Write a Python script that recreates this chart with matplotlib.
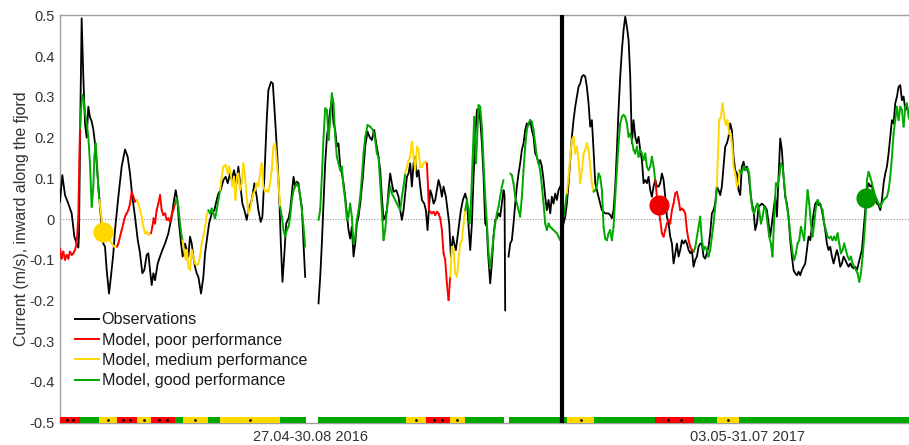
import numpy as np
import matplotlib
matplotlib.use("Agg")
import matplotlib.pyplot as plt
from matplotlib.collections import LineCollection
from matplotlib.lines import Line2D
from matplotlib.patches import Rectangle

plt.rcParams['font.family'] = ['Liberation Sans', 'DejaVu Sans']

nan = np.nan

# Time axis in days: first deployment starts at 0, the second one is appended after it
period_bounds = [0.0, 124.2, 216.0]
period_labels = ['27.04-30.08 2016', '03.05-31.07 2017']

# Observed along-fjord current (m/s); nan marks data gaps
obs_t = [
    0.0, 0.58, 1.24, 2.06, 2.89, 3.55, 4.12, 4.54, 4.70, 5.03,
    5.36, 5.77, 6.19, 6.60, 7.01, 7.42, 7.84, 8.25, 8.66, 9.07,
    9.49, 9.90, 10.31, 10.72, 11.14, 11.55, 12.13, 12.62, 13.20, 13.61,
    14.44, 15.26, 16.09, 16.75, 17.32, 17.90, 18.56, 19.22, 19.80, 20.38,
    20.87, 21.45, 21.86, 22.27, 22.69, 23.10, 23.51, 24.17, 24.75, 25.33,
    25.99, 26.81, 27.64, 28.21, 28.63, 29.04, 29.45, 29.95, 30.36, 30.94,
    31.35, 31.76, 32.17, 32.59, 33.00, 33.41, 33.82, 34.24, 34.90, 35.47,
    35.89, 36.46, 36.88, 37.54, 38.20, 38.77, 39.19, 39.76, 40.42, 41.00,
    41.50, 42.07, 42.48, 43.06, 43.72, 44.13, 44.55, 45.13, 45.62, 46.20,
    46.61, 47.44, 48.10, 48.67, 49.09, 49.66, 50.08, 50.57, 51.15, 51.56,
    52.22, 52.66, 53.24, 53.82, 54.31, 54.64, 55.05, 55.47, 55.96, 56.54,
    56.95, 57.36, 57.78, 58.19, 58.60, 59.01, 59.43, 59.84, 60.25, 60.66,
    62.30,
    63.96, 64.38, 64.79, 65.20, 65.61, 66.03, 66.44, 66.85, 67.26, 67.68,
    68.09, 68.50, 68.91, 69.33, 69.74, 70.15, 70.56, 70.98, 71.39, 71.80,
    72.21, 72.63, 73.04, 73.45, 73.86, 74.28, 74.94, 75.51, 76.09, 76.59,
    77.16, 77.74, 78.24, 78.81, 79.23, 79.64, 80.05, 80.46, 80.88, 81.29,
    81.70, 82.11, 82.53, 83.19, 83.76, 84.18, 84.59, 85.00, 85.41, 85.83,
    86.24, 86.65, 87.06, 87.48, 87.89, 88.30, 88.71, 89.13, 89.54, 90.12,
    90.53, 90.94, 91.27, 91.60, 92.01, 92.43, 92.84, 93.25, 93.66, 94.08,
    94.49, 94.90, 95.48, 95.89, 96.30, 96.72, 97.21, 97.54, 97.95, 98.37,
    98.78, 99.19, 99.69, 100.26, 100.68, 101.09, 101.50, 101.91, 102.33, 102.74,
    103.15, 103.56, 103.98, 104.39, 104.80, 105.21, 105.63, 105.86, 106.44, 106.85,
    107.26, 107.68, 108.09, 108.50, 108.91, 109.33, 109.74, 109.99, 110.15,
    110.50,
    110.98, 111.39, 111.80, 112.21, 112.63, 113.04, 113.45, 113.86, 114.28, 114.69,
    115.10, 115.51, 115.93, 116.34, 116.75, 117.16, 117.58, 117.99, 118.40, 118.81,
    119.23, 119.64, 120.05, 120.46, 120.88, 121.29, 121.70, 122.11, 122.53, 122.94,
    123.35, 123.76,
    124.20,
    124.59, 125.00, 125.41, 125.83, 126.24, 126.65, 127.06, 127.48, 127.89, 128.30,
    128.71, 129.13, 129.54, 129.95, 130.36, 130.78, 131.19, 131.60, 132.01, 132.43,
    132.84, 133.25, 133.66, 134.08, 134.90, 135.73, 136.14, 136.55, 136.96, 137.38,
    137.79, 138.20, 138.61, 139.03, 139.44, 139.85, 140.26, 140.68, 141.09, 141.50,
    141.91, 142.33, 142.74, 143.15, 143.56, 143.98, 144.39, 144.80, 145.21, 145.63,
    146.04, 146.45, 146.86, 147.28, 147.69, 148.10, 148.51, 148.93, 149.34, 149.75,
    150.16, 150.58, 150.99, 151.40, 151.81, 152.23, 152.64, 153.05, 153.46, 153.88,
    154.29, 154.70, 155.11, 155.53, 155.94, 156.35, 156.76, 157.18, 157.59, 158.00,
    158.41, 158.81, 159.23, 159.64, 160.05, 160.46, 160.88, 161.29, 161.70, 162.11,
    162.53, 162.94, 163.35, 163.76, 164.18, 164.59, 165.00, 165.41, 165.83, 166.24,
    166.65, 167.06, 167.48, 167.89, 168.30, 168.71, 169.13, 169.54, 169.95, 170.36,
    170.78, 171.19, 171.60, 172.01, 172.43, 172.84, 173.66, 174.49, 174.90, 175.31,
    175.73, 176.14, 176.55, 176.96, 177.38, 177.79, 178.20, 178.61, 179.03, 179.44,
    179.85, 180.26, 180.68, 181.09, 181.50, 181.91, 182.33, 182.74, 183.15, 183.56,
    183.98, 184.39, 184.80, 185.21, 185.63, 186.04, 186.45, 186.86, 187.28, 187.69,
    188.10, 188.51, 188.93, 189.34, 189.75, 190.16, 190.58, 190.99, 191.40, 191.81,
    192.23, 192.64, 193.05, 193.46, 193.88, 194.29, 194.70, 195.11, 195.53, 195.94,
    196.35, 196.76, 197.18, 197.59, 198.00, 198.41, 198.83, 199.24, 199.65, 200.06,
    200.48, 200.89, 201.30, 201.71, 202.13, 202.54, 202.95, 203.36, 203.78, 204.19,
    204.60, 205.01, 205.43, 205.84, 206.25, 206.66, 207.08, 207.49, 207.90, 208.31,
    208.73, 209.14, 209.55, 209.96, 210.40,
]
obs_v = [
    0.043, 0.108, 0.059, 0.038, 0.014, -0.043, -0.060, -0.070, -0.040, 0.250,
    0.493, 0.350, 0.235, 0.200, 0.276, 0.250, 0.240, 0.220, 0.186, 0.137,
    0.080, 0.030, -0.019, -0.060, -0.068, -0.125, -0.183, -0.140, -0.084, -0.027,
    0.055, 0.129, 0.171, 0.153, 0.112, 0.055, 0.006, -0.050, -0.084, -0.133,
    -0.125, -0.088, -0.084, -0.125, -0.162, -0.133, -0.150, -0.109, -0.092, -0.076,
    -0.060, -0.035, 0.006, 0.047, 0.071, 0.047, -0.011, -0.060, -0.092, -0.060,
    -0.076, -0.092, -0.043, -0.060, -0.092, -0.117, -0.133, -0.142, -0.183, -0.142,
    -0.084, -0.043, -0.011, 0.014, 0.022, 0.047, 0.063, 0.071, 0.096, 0.104,
    0.088, 0.112, 0.096, 0.120, 0.088, 0.129, 0.088, 0.038, 0.022, -0.002,
    0.022, 0.047, 0.088, 0.055, 0.022, -0.007, 0.006, 0.104, 0.243, 0.317,
    0.337, 0.333, 0.243, 0.145, 0.038, -0.060, -0.154, -0.092, -0.011, 0.002,
    0.022, 0.063, 0.104, 0.080, 0.092, 0.088, 0.055, 0.030, -0.060, -0.142,
    nan,
    -0.207, -0.142, -0.060, 0.038, 0.137, 0.200, 0.235, 0.268, 0.292, 0.235,
    0.219, 0.178, 0.186, 0.129, 0.112, 0.088, 0.055, 0.014, -0.027, -0.048,
    -0.019, -0.092, -0.060, -0.011, 0.006, 0.038, 0.104, 0.178, 0.215, 0.202,
    0.194, 0.219, 0.186, 0.153, 0.120, 0.055, -0.002, 0.006, 0.022, 0.071,
    0.112, 0.088, 0.067, 0.071, 0.055, 0.022, -0.002, 0.022, 0.063, 0.104,
    0.112, 0.137, 0.080, 0.137, 0.153, 0.104, 0.120, 0.080, 0.047, 0.038,
    0.022, -0.027, 0.022, 0.071, 0.059, 0.038, 0.047, 0.071, 0.096, 0.080,
    0.055, 0.080, 0.055, 0.022, -0.011, -0.092, -0.043, -0.060, -0.076, -0.043,
    -0.011, 0.022, 0.047, 0.063, 0.047, -0.019, -0.076, -0.011, 0.104, 0.202,
    0.268, 0.272, 0.243, 0.186, 0.104, -0.011, -0.019, -0.076, -0.158, -0.109,
    -0.043, -0.002, 0.002, 0.014, 0.006, 0.038, 0.071, 0.059, -0.224,
    nan,
    -0.092, -0.060, -0.052, -0.011, 0.038, 0.080, 0.112, 0.137, 0.170, 0.186,
    0.219, 0.235, 0.231, 0.243, 0.219, 0.202, 0.161, 0.153, 0.137, 0.145,
    0.129, 0.096, 0.055, 0.022, 0.047, 0.014, 0.055, 0.038, 0.063, 0.047,
    0.071, 0.080,
    nan,
    -0.011, 0.006, 0.038, 0.088, 0.145, 0.202, 0.243, 0.276, 0.301, 0.325,
    0.333, 0.350, 0.354, 0.350, 0.325, 0.284, 0.227, 0.243, 0.170, 0.088,
    0.071, 0.055, 0.038, 0.022, 0.014, 0.014, 0.010, 0.002, 0.022, 0.080,
    0.170, 0.268, 0.350, 0.415, 0.464, 0.497, 0.473, 0.440, 0.350, 0.186,
    0.243, 0.202, 0.186, 0.202, 0.170, 0.145, 0.088, 0.096, 0.088, 0.104,
    0.071, 0.055, 0.080, 0.096, 0.080, 0.080, 0.088, 0.112, 0.096, 0.055,
    0.006, -0.011, -0.043, -0.060, -0.109, -0.084, -0.060, -0.092, -0.076, -0.052,
    -0.060, -0.052, -0.060, -0.076, -0.084, -0.076, -0.117, -0.100, -0.092, -0.068,
    -0.060, -0.060, -0.092, -0.097, -0.084, -0.068, -0.035, 0.014, 0.022, 0.038,
    0.080, 0.071, 0.059, 0.080, 0.129, 0.178, 0.186, 0.202, 0.235, 0.219,
    0.153, 0.120, 0.112, 0.071, 0.059, 0.129, 0.141, 0.120, 0.129, 0.112,
    0.071, 0.038, 0.022, -0.027, -0.011, 0.030, 0.038, 0.030, 0.022, -0.011,
    -0.043, -0.011, 0.022, 0.055, 0.006, 0.104, 0.198, 0.170, 0.104, 0.055,
    0.038, 0.006, -0.052, -0.092, -0.125, -0.133, -0.138, -0.129, -0.138, -0.125,
    -0.117, -0.109, -0.076, -0.043, -0.052, -0.019, 0.014, 0.038, 0.043, 0.034,
    0.038, 0.022, -0.002, -0.027, -0.060, -0.076, -0.068, -0.092, -0.109, -0.092,
    -0.076, -0.092, -0.117, -0.109, -0.092, -0.100, -0.109, -0.117, -0.109, -0.117,
    -0.121, -0.117, -0.125, -0.109, -0.092, -0.076, -0.027, 0.022, 0.071, 0.088,
    0.080, 0.084, 0.055, 0.047, 0.038, 0.034, 0.022, 0.047, 0.088, 0.112,
    0.129, 0.161, 0.202, 0.243, 0.235, 0.284, 0.301, 0.325, 0.329, 0.292,
    0.301, 0.268, 0.276, 0.260, 0.250,
]

# Modelled along-fjord current (m/s)
mod_t = [
    0.00, 0.41, 0.82, 1.24, 1.65, 2.06, 2.47, 2.89, 3.30, 3.71,
    4.12, 4.54, 4.78, 4.95, 5.20, 5.53, 5.86, 6.19, 6.60, 7.01,
    7.42, 7.84, 8.25, 8.50, 8.83, 9.16, 9.49, 9.73, 10.06, 10.39,
    11.14, 11.96, 12.79, 13.45, 13.78, 14.10, 14.44, 14.85, 15.26, 15.67,
    16.09, 16.50, 16.91, 17.32, 17.74, 18.15, 18.56, 18.97, 19.39, 19.80,
    20.21, 20.62, 21.04, 21.45, 21.86, 22.27, 22.52, 22.85, 23.18, 23.51,
    23.92, 24.34, 24.75, 25.16, 25.57, 25.99, 26.40, 26.81, 27.22, 27.64,
    28.05, 28.46, 28.87, 29.29, 29.70, 30.11, 30.36, 30.69, 31.10, 31.43,
    31.76, 32.17, 32.59, 33.00, 33.41, 33.82, 34.24, 34.65, 35.06, 35.47,
    35.89, 36.30, 36.71, 37.12, 37.54, 37.95, 38.36, 38.77, 39.19, 39.60,
    40.01, 40.42, 41.00, 41.50, 41.83, 42.24, 42.65, 43.06, 43.39, 43.80,
    44.13, 44.55, 44.96, 45.37, 45.78, 46.20, 46.61, 47.02, 47.44, 47.85,
    48.26, 48.67, 49.09, 49.50, 49.91, 50.32, 50.74, 51.15, 51.56, 51.97,
    52.39, 52.80, 53.24, 53.82, 54.23, 54.48, 54.89, 55.30, 55.71, 56.13,
    56.54, 56.95, 57.36, 57.78, 58.19, 58.60, 59.01, 59.43, 59.84, 60.25,
    60.66,
    62.30,
    63.96, 64.38, 64.79, 65.20, 65.61, 66.03, 66.44, 66.85, 67.26, 67.68,
    68.09, 68.50, 68.91, 69.33, 69.74, 70.15, 70.56, 70.98, 71.39, 71.80,
    72.21, 72.63, 73.04, 73.45, 73.86, 74.28, 74.69, 75.10, 75.51, 76.09,
    76.75, 77.41, 77.99, 78.40, 78.81, 79.23, 79.64, 80.05, 80.46, 80.88,
    81.29, 81.70, 82.11, 82.53, 82.94, 83.35, 83.76, 84.18, 84.59, 85.00,
    85.41, 85.83, 86.24, 86.65, 87.06, 87.48, 87.89, 88.30, 88.71, 89.13,
    89.54, 89.95, 90.36, 90.78, 91.02, 91.27, 91.60, 92.01, 92.43, 92.84,
    93.25, 93.66, 94.08, 94.49, 94.90, 95.31, 95.73, 96.14, 96.55, 96.96,
    97.38, 97.79, 98.20, 98.61, 99.03, 99.44, 99.85, 100.26, 100.68, 101.09,
    101.34, 101.67, 102.08, 102.49, 102.90, 103.15, 103.56, 103.98, 104.39, 104.80,
    105.21, 105.63, 106.04, 106.44, 106.85, 107.26, 107.68, 108.09, 108.50, 108.91,
    109.33, 109.74,
    110.40,
    110.98, 111.39, 111.80, 112.21, 112.63, 113.04, 113.45, 113.86, 114.28, 114.69,
    115.10, 115.51, 115.93, 116.34, 116.75, 117.16, 117.58, 117.99, 118.40, 118.81,
    119.23, 119.64, 120.05, 120.46, 120.88, 121.29, 121.70, 122.11, 122.53, 122.94,
    123.35, 123.76,
    124.20,
    124.59, 125.00, 125.41, 125.83, 126.24, 126.65, 127.06, 127.48, 127.89, 128.30,
    128.71, 129.13, 129.54, 129.95, 130.36, 130.78, 131.19, 131.60, 132.01, 132.43,
    132.84, 133.25, 133.66, 134.08, 134.49, 134.90, 135.31, 135.73, 136.14, 136.55,
    136.96, 137.38, 137.79, 138.20, 138.61, 139.03, 139.44, 139.85, 140.26, 140.68,
    141.09, 141.50, 141.91, 142.33, 142.74, 143.15, 143.56, 143.98, 144.39, 144.80,
    145.21, 145.63, 146.04, 146.45, 146.86, 147.28, 147.69, 148.10, 148.51, 148.93,
    149.34, 149.75, 150.16, 150.58, 150.99, 151.40, 151.81, 152.23, 152.64, 153.05,
    153.46, 153.88, 154.29, 154.70, 155.11, 155.53, 155.94, 156.35, 156.76, 157.18,
    157.59, 158.00, 158.41, 158.81, 159.23, 159.64, 160.05, 160.46, 160.88, 161.29,
    161.70, 162.11, 162.53, 162.77, 163.10, 163.52, 163.93, 164.34, 164.75, 165.17,
    165.58, 165.99, 166.40, 166.65, 167.06, 167.48, 167.81, 168.14, 168.47, 168.88,
    169.29, 169.70, 170.12, 170.53, 170.94, 171.35, 171.77, 172.18, 172.59, 173.00,
    173.42, 173.83, 174.24, 174.65, 175.07, 175.48, 175.89, 176.30, 176.72, 177.13,
    177.54, 177.95, 178.37, 178.78, 179.19, 179.60, 180.02, 180.43, 180.84, 181.25,
    181.67, 182.08, 182.49, 182.90, 183.32, 183.73, 184.14, 184.55, 184.97, 185.38,
    185.79, 186.20, 186.62, 187.03, 187.44, 187.85, 188.27, 188.68, 189.09, 189.50,
    189.92, 190.33, 190.74, 191.15, 191.57, 191.98, 192.39, 192.80, 193.22, 193.63,
    194.04, 194.45, 194.87, 195.28, 195.69, 196.10, 196.52, 196.93, 197.34, 197.75,
    198.17, 198.58, 198.99, 199.40, 199.65, 200.06, 200.48, 200.89, 201.30, 201.71,
    202.13, 202.54, 202.95, 203.36, 203.78, 204.19, 204.60, 205.01, 205.43, 205.84,
    206.25, 206.66, 207.08, 207.49, 207.90, 208.31, 208.73, 209.14, 209.55, 209.96,
    210.40,
]
mod_v = [
    -0.072, -0.097, -0.080, -0.100, -0.088, -0.097, -0.080, -0.088, -0.084, -0.076,
    -0.060, 0.006, 0.145, 0.223, 0.268, 0.305, 0.292, 0.260, 0.235, 0.202,
    0.137, 0.030, 0.080, 0.153, 0.186, 0.137, 0.075, 0.047, 0.022, -0.011,
    -0.030, -0.045, -0.060, -0.068, -0.065, -0.068, -0.060, -0.043, -0.027, -0.011,
    0.006, 0.014, 0.022, 0.038, 0.067, 0.055, 0.043, 0.047, 0.038, 0.022,
    0.006, -0.019, -0.035, -0.031, -0.039, -0.035, -0.035, -0.019, 0.002, -0.011,
    0.022, 0.038, 0.059, 0.022, 0.010, 0.014, -0.002, 0.002, -0.007, 0.010,
    0.022, 0.038, 0.051, 0.030, -0.011, -0.043, -0.052, -0.076, -0.100, -0.076,
    -0.117, -0.125, -0.076, -0.092, -0.109, -0.113, -0.109, -0.092, -0.060, -0.043,
    -0.019, 0.010, 0.022, 0.014, 0.026, 0.014, 0.002, 0.022, 0.047, 0.071,
    0.104, 0.129, 0.133, 0.112, 0.129, 0.112, 0.080, 0.104, 0.047, 0.104,
    0.112, 0.071, 0.088, 0.137, 0.104, 0.055, 0.014, 0.022, 0.047, 0.063,
    0.071, 0.088, 0.080, 0.112, 0.137, 0.080, 0.067, 0.071, 0.067, 0.088,
    0.120, 0.178, 0.186, 0.120, 0.063, 0.030, 0.006, -0.027, -0.043, -0.027,
    -0.019, 0.006, 0.047, 0.071, 0.080, 0.088, 0.080, 0.055, 0.022, -0.019,
    -0.068,
    nan,
    -0.002, 0.022, 0.104, 0.200, 0.272, 0.268, 0.194, 0.243, 0.309, 0.284,
    0.202, 0.153, 0.137, 0.120, 0.129, 0.080, 0.047, -0.002, 0.006, 0.038,
    0.006, -0.060, -0.043, -0.002, 0.022, 0.055, 0.104, 0.161, 0.200, 0.231,
    0.227, 0.219, 0.194, 0.161, 0.153, 0.088, 0.022, -0.052, -0.027, 0.022,
    0.055, 0.080, 0.063, 0.055, 0.047, 0.038, 0.030, 0.022, 0.055, 0.080,
    0.112, 0.129, 0.145, 0.153, 0.190, 0.153, 0.120, 0.178, 0.170, 0.129,
    0.129, 0.137, 0.141, 0.137, 0.088, 0.022, 0.018, 0.014, 0.018, 0.010,
    0.018, 0.014, 0.002, -0.027, -0.084, -0.100, -0.158, -0.199, -0.142, -0.068,
    -0.076, -0.133, -0.142, -0.100, -0.060, -0.052, -0.011, 0.022, 0.047, 0.022,
    -0.011, 0.038, 0.145, 0.251, 0.137, 0.186, 0.280, 0.276, 0.227, 0.137,
    0.055, -0.011, -0.084, -0.121, -0.084, -0.043, -0.011, 0.014, 0.030, 0.055,
    0.080, 0.096,
    nan,
    0.157, 0.112, 0.108, 0.088, 0.055, 0.038, 0.022, 0.006, 0.055, 0.120,
    0.178, 0.219, 0.235, 0.243, 0.239, 0.219, 0.186, 0.153, 0.137, 0.120,
    0.080, 0.038, -0.011, -0.027, -0.011, -0.019, -0.023, -0.027, -0.031, -0.035,
    -0.043, -0.052,
    nan,
    0.006, 0.030, 0.063, 0.104, 0.153, 0.194, 0.202, 0.161, 0.178, 0.145,
    0.088, 0.120, 0.161, 0.170, 0.186, 0.170, 0.129, 0.088, 0.067, 0.071,
    0.080, 0.112, 0.104, 0.071, -0.019, -0.048, -0.052, -0.035, -0.027, -0.052,
    -0.019, 0.055, 0.120, 0.186, 0.235, 0.251, 0.256, 0.251, 0.235, 0.202,
    0.210, 0.194, 0.170, 0.161, 0.178, 0.153, 0.170, 0.161, 0.145, 0.161,
    0.129, 0.120, 0.129, 0.153, 0.129, 0.096, 0.055, 0.022, -0.002, -0.035,
    -0.043, -0.027, -0.011, -0.002, -0.011, 0.022, 0.038, 0.063, 0.067, 0.047,
    0.022, 0.026, 0.022, 0.014, -0.027, -0.052, -0.068, -0.076, -0.080, -0.070,
    -0.043, -0.019, 0.006, -0.052, -0.076, -0.068, -0.076, -0.092, -0.076, -0.043,
    -0.011, 0.030, 0.080, 0.153, 0.243, 0.251, 0.284, 0.251, 0.231, 0.243,
    0.210, 0.210, 0.170, 0.129, 0.112, 0.080, 0.088, 0.120, 0.112, 0.120,
    0.129, 0.120, 0.125, 0.112, 0.055, 0.022, 0.014, 0.030, 0.038, 0.022,
    -0.011, 0.006, 0.030, 0.022, -0.011, -0.043, -0.060, -0.092, 0.006, 0.088,
    0.080, 0.104, 0.137, 0.129, 0.088, 0.047, 0.022, -0.011, -0.052, -0.084,
    -0.100, -0.084, -0.060, -0.052, -0.019, -0.035, -0.052, 0.014, 0.071, 0.038,
    -0.011, -0.043, -0.011, 0.030, 0.047, 0.038, 0.030, 0.022, -0.011, -0.027,
    -0.043, -0.047, -0.043, -0.052, -0.043, -0.052, -0.035, -0.060, -0.084, -0.076,
    -0.060, -0.076, -0.092, -0.100, -0.092, -0.109, -0.117, -0.125, -0.133, -0.154,
    -0.133, -0.092, -0.043, 0.022, 0.096, 0.116, 0.104, 0.088, 0.071, 0.055,
    0.047, 0.038, 0.030, 0.038, 0.047, 0.051, 0.055, 0.071, 0.104, 0.153,
    0.210, 0.243, 0.276, 0.243, 0.276, 0.268, 0.227, 0.276, 0.284, 0.251,
    0.240,
]

# Model performance classes for consecutive time windows
seg_start = [0.0, 4.95, 9.7, 14.0, 19.0, 22.5, 28.5, 30.4, 36.6, 39.5, 54.5,
             63.8, 85.6, 90.6, 96.5, 100.2, 111.2, 124.4, 125.5, 132.2, 147.1,
             156.8, 162.6, 168.0]
seg_end = [4.95, 9.7, 14.0, 19.0, 22.5, 28.5, 30.4, 36.6, 39.5, 54.5, 60.8,
           85.6, 90.6, 96.5, 100.2, 109.9, 124.2, 125.5, 132.2, 147.1, 156.8,
           162.6, 168.0, 216.0]
seg_class = ['poor', 'good', 'medium', 'poor', 'medium', 'poor', 'good',
             'medium', 'good', 'medium', 'good', 'good', 'medium', 'poor',
             'medium', 'good', 'good', 'good', 'medium', 'good', 'poor',
             'good', 'medium', 'good']

# Highlighted example windows
marker_t = [10.57, 148.1, 199.4]
marker_v = [-0.031, 0.034, 0.051]
marker_class = ['medium', 'poor', 'good']

class_colors = {'poor': '#ff0000', 'medium': '#ffd800', 'good': '#00a800'}
marker_colors = {'poor': '#f00000', 'medium': '#ffd800', 'good': '#009a00'}
class_dots = {'poor': 2, 'medium': 1, 'good': 0}
legend_labels = ['Observations', 'Model, poor performance',
                 'Model, medium performance', 'Model, good performance']

text_color = '#333333'
spine_color = '#a0a0a0'

fig = plt.figure(figsize=(9.09, 4.45), dpi=100)
ax = fig.add_axes([0.066, 0.0501, 0.9604, 0.9151])
ax.set_xlim(period_bounds[0], period_bounds[-1])
ax.set_ylim(-0.5, 0.5)

# zero reference
ax.axhline(0, color='#9a9a9a', lw=0.8, ls=(0, (1, 1.5)), zorder=1)

# observations
ax.plot(obs_t, obs_v, color='black', lw=1.3, zorder=3, solid_joinstyle='round')

# model, coloured by performance class of the window it falls in
mt = np.asarray(mod_t, dtype=float)
mv = np.asarray(mod_v, dtype=float)


def class_at(t):
    for s, e, c in zip(seg_start, seg_end, seg_class):
        if s <= t < e:
            return c
    return None


segs, cols = [], []
for i in range(len(mt) - 1):
    if np.isnan(mv[i]) or np.isnan(mv[i + 1]):
        continue
    c = class_at(0.5 * (mt[i] + mt[i + 1]))
    if c is None:
        continue
    segs.append([(mt[i], mv[i]), (mt[i + 1], mv[i + 1])])
    cols.append(class_colors[c])
lc = LineCollection(segs, colors=cols, linewidths=1.4, zorder=4,
                    capstyle='round', joinstyle='round')
ax.add_collection(lc)

# performance strip along the bottom
strip_h = 0.015
for s, e, c in zip(seg_start, seg_end, seg_class):
    ax.add_patch(Rectangle((s, -0.5), e - s, strip_h, facecolor=class_colors[c],
                           edgecolor='none', zorder=5, clip_on=False))
    n = class_dots[c]
    if n:
        xs = [s + (e - s) * k / (n + 1) for k in range(1, n + 1)]
        ax.plot(xs, [-0.5 + strip_h / 2] * n, 'o', color='black', ms=2.0,
                mec='none', zorder=6, clip_on=False)

# separator between the two deployments
ax.axvline(period_bounds[1], color='black', lw=3.0, zorder=7)

# highlighted windows
for t, v, c in zip(marker_t, marker_v, marker_class):
    ax.plot(t, v, 'o', color=marker_colors[c], ms=14.5, mec='none', zorder=8)

# axes styling
for side in ['top', 'left', 'bottom']:
    ax.spines[side].set_color(spine_color)
    ax.spines[side].set_linewidth(1.0)
ax.spines['right'].set_visible(False)

yt = np.round(np.arange(-0.5, 0.51, 0.1), 1) + 0.0
ax.set_yticks(yt)
ax.set_yticklabels([f"{v:g}" for v in yt])
mids = [0.5 * (period_bounds[i] + period_bounds[i + 1]) for i in range(2)]
ax.set_xticks(mids)
ax.set_xticklabels(period_labels)
ax.tick_params(axis='both', length=0, labelsize=10.5, colors=text_color)
ax.tick_params(axis='y', pad=4)
ax.tick_params(axis='x', pad=5)

ax.set_ylabel('Current (m/s), inward along the fjord', fontsize=11.4,
              color=text_color)
ax.yaxis.set_label_coords(-0.036, 0.5)

handles = [Line2D([], [], color='black', lw=1.4),
           Line2D([], [], color=class_colors['poor'], lw=1.4),
           Line2D([], [], color=class_colors['medium'], lw=1.4),
           Line2D([], [], color=class_colors['good'], lw=1.4)]
leg = fig.legend(handles, legend_labels, loc='upper left',
                 bbox_to_anchor=(75 / 909, 1 - 312.5 / 445), frameon=False,
                 fontsize=11.6, handlelength=1.5, handletextpad=0.15,
                 labelspacing=0.33, borderpad=0, borderaxespad=0)
for txt in leg.get_texts():
    txt.set_color('#1a1a1a')

fig.savefig('out.png', dpi=100)
